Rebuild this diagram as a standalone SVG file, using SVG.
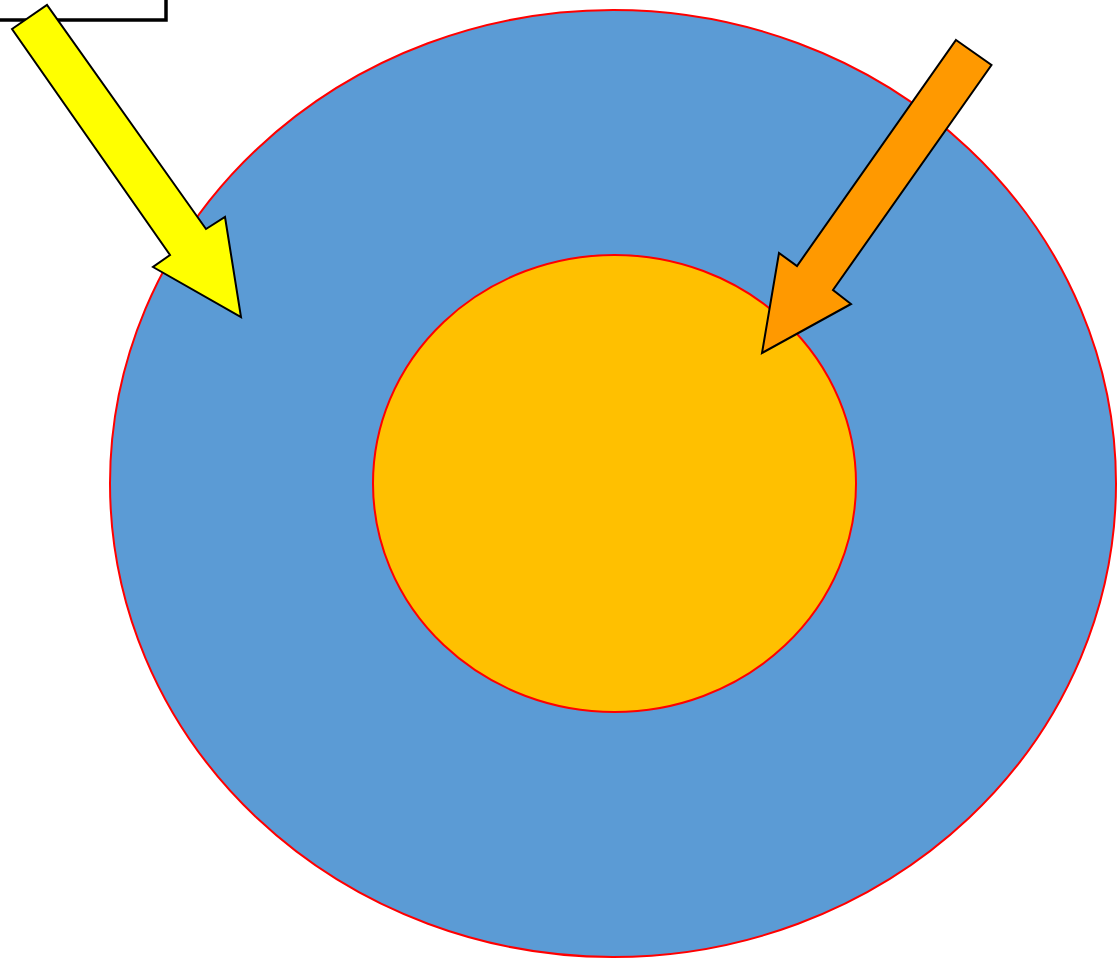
<svg xmlns="http://www.w3.org/2000/svg" width="1120" height="964" viewBox="0 0 1120 964">
<style>
.ell{stroke:#FF0000;stroke-width:2}
.arr{stroke:#000;stroke-width:2;stroke-linejoin:miter}
</style>
<rect width="1120" height="964" fill="#FFFFFF"/>
<g id="box"><rect x="-10" y="-10" width="176" height="30" fill="#FFFFFF" stroke="#000" stroke-width="3.5"/></g>
<g id="outer"><ellipse class="ell" cx="613" cy="483.5" rx="503" ry="473.5" fill="#5B9BD5"/></g>
<g id="inner"><ellipse class="ell" cx="614.5" cy="483.5" rx="241.5" ry="228.5" fill="#FFC000"/></g>
<g id="connectors">
<polygon class="arr" fill="#FFFF00" points="12,29 47,5 206,229 225,217 241,317 153,267 170,255"/>
<polygon class="arr" fill="#FF9900" points="956,40 991.5,65 833,290 851,304 762,353 779,253 797,266"/>
</g>
</svg>
